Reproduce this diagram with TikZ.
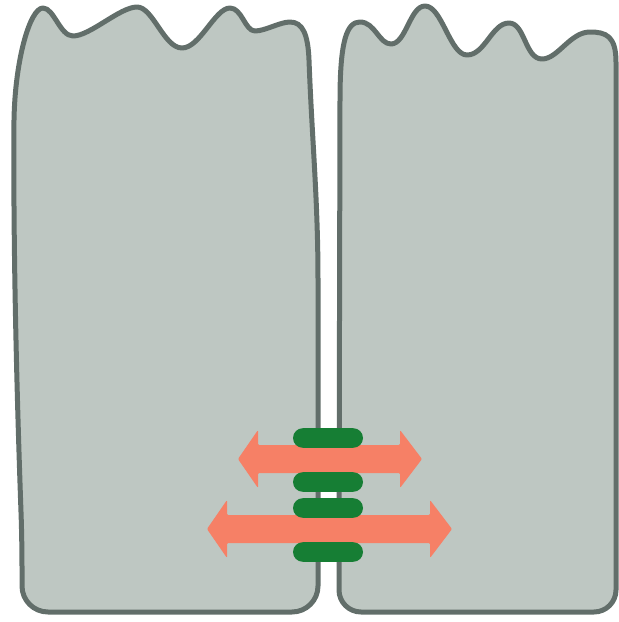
\documentclass[tikz,border=0pt]{standalone}
\definecolor{cellfill}{RGB}{190,199,194}
\definecolor{cellline}{RGB}{98,110,106}
\definecolor{jgreen}{RGB}{22,126,52}
\definecolor{flux}{RGB}{246,128,102}
\begin{document}
\begin{tikzpicture}[x=0.5pt,y=-0.5pt,cl/.style={draw=cellline,fill=cellfill,line width=2.5pt,line join=round},jn/.style={rectangle,fill=jgreen,rounded corners=4.9pt,minimum width=35pt,minimum height=9.8pt,inner sep=0pt},fx/.style={fill=flux,rounded corners=0.6pt}]
\useasboundingbox (0,0) rectangle (618,622);
% left cell
\draw[cl] (22,540) .. controls (17,400) and (13,250) .. (14,120) .. controls (15,60) and (30,8) .. (43,8)
  .. controls (54,8) and (60,36) .. (73,36) .. controls (90,36) and (120,7) .. (137,7)
  .. controls (153,7) and (164,48) .. (182,48) .. controls (200,48) and (215,8) .. (230,8)
  .. controls (242,8) and (245,31) .. (255,31) .. controls (265,31) and (280,22) .. (290,22)
  .. controls (303,22) and (308,35) .. (309,60) .. controls (312,140) and (318,200) .. (318,280)
  [rounded corners=13pt] -- (318,612) -- (22,612) -- cycle;
% right cell
\draw[cl] (339,540) -- (340,100) .. controls (340,40) and (347,22) .. (360,22)
  .. controls (375,22) and (379,44) .. (391,44) .. controls (406,44) and (410,6) .. (425,6)
  .. controls (442,6) and (450,55) .. (467,55) .. controls (485,55) and (492,23) .. (509,23)
  .. controls (525,23) and (525,59) .. (542,59) .. controls (558,59) and (570,32) .. (590,32)
  .. controls (606,32) and (616,36) .. (616,62)
  [rounded corners=11pt] -- (616,612) -- (339,612) -- cycle;
% double arrows through the junction
\foreach \y/\l/\r in {459/238/422,529/207/452} {\fill[fx] (\l,\y) -- (\l+20,\y-29) -- (\l+20,\y-14) -- (\r-22,\y-14) -- (\r-22,\y-29) -- (\r,\y) -- (\r-22,\y+29) -- (\r-22,\y+14) -- (\l+20,\y+14) -- (\l+20,\y+29) -- cycle;}
% junction proteins
\foreach \y [count=\i] in {438,482,508,552} {\node[jn] (j\i) at (328,\y) {};}
\end{tikzpicture}
\end{document}
